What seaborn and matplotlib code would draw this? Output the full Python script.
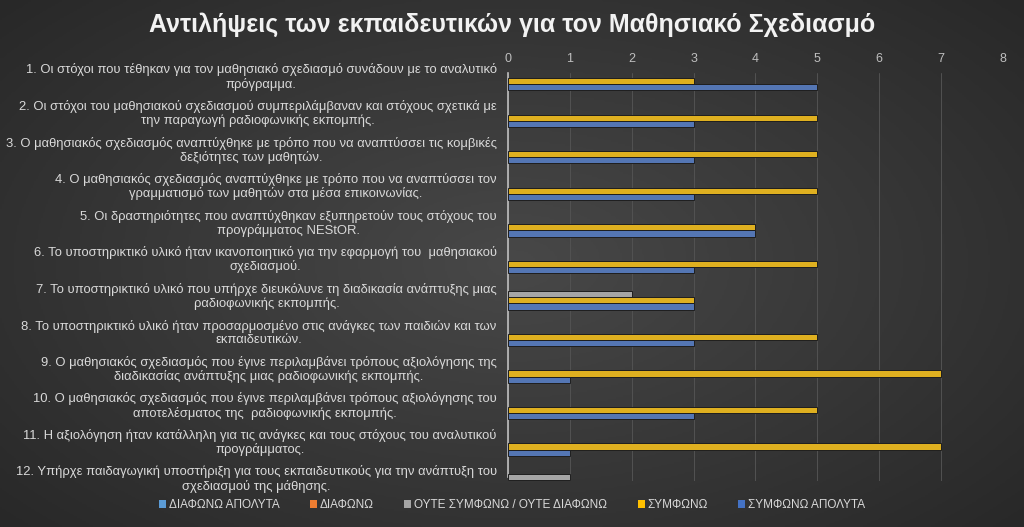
import matplotlib
matplotlib.use("Agg")
import matplotlib.pyplot as plt
import numpy as np
import pandas as pd
import seaborn as sns
from matplotlib.patches import Patch

questions = [
    "1. Οι στόχοι που τέθηκαν για τον μαθησιακό σχεδιασμό συνάδουν με το αναλυτικό\nπρόγραμμα.",
    "2. Οι στόχοι του μαθησιακού σχεδιασμού συμπεριλάμβαναν και στόχους σχετικά με\nτην παραγωγή ραδιοφωνικής εκπομπής.",
    "3. Ο μαθησιακός σχεδιασμός αναπτύχθηκε με τρόπο που να αναπτύσσει τις κομβικές\nδεξιότητες των μαθητών.",
    "4. Ο μαθησιακός σχεδιασμός αναπτύχθηκε με τρόπο που να αναπτύσσει τον\nγραμματισμό των μαθητών στα μέσα επικοινωνίας.",
    "5. Οι δραστηριότητες που αναπτύχθηκαν εξυπηρετούν τους στόχους του\nπρογράμματος NEStOR.",
    "6. Το υποστηρικτικό υλικό ήταν ικανοποιητικό για την εφαρμογή του  μαθησιακού\nσχεδιασμού.",
    "7. Το υποστηρικτικό υλικό που υπήρχε διευκόλυνε τη διαδικασία ανάπτυξης μιας\nραδιοφωνικής εκπομπής.",
    "8. Το υποστηρικτικό υλικό ήταν προσαρμοσμένο στις ανάγκες των παιδιών και των\nεκπαιδευτικών.",
    "9. Ο μαθησιακός σχεδιασμός που έγινε περιλαμβάνει τρόπους αξιολόγησης της\nδιαδικασίας ανάπτυξης μιας ραδιοφωνικής εκπομπής.",
    "10. Ο μαθησιακός σχεδιασμός που έγινε περιλαμβάνει τρόπους αξιολόγησης του\nαποτελέσματος της  ραδιοφωνικής εκπομπής.",
    "11. Η αξιολόγηση ήταν κατάλληλη για τις ανάγκες και τους στόχους του αναλυτικού\nπρογράμματος.",
    "12. Υπήρχε παιδαγωγική υποστήριξη για τους εκπαιδευτικούς για την ανάπτυξη του\nσχεδιασμού της μάθησης.",
]

answers = ["ΔΙΑΦΩΝΩ ΑΠΟΛΥΤΑ", "ΔΙΑΦΩΝΩ", "ΟΥΤΕ ΣΥΜΦΩΝΩ / ΟΥΤΕ ΔΙΑΦΩΝΩ", "ΣΥΜΦΩΝΩ", "ΣΥΜΦΩΝΩ ΑΠΟΛΥΤΑ"]
colors = ["#5B9BD5", "#ED7D31", "#A5A5A5", "#FFC000", "#4472C4"]

diafono_apolyta = [0, 0, 0, 0, 0, 0, 0, 0, 0, 0, 0, 0]
diafono = [0, 0, 0, 0, 0, 0, 0, 0, 0, 0, 0, 0]
oute = [0, 0, 0, 0, 0, 0, 2, 0, 0, 0, 0, 1]
symfono = [3, 5, 5, 5, 4, 5, 3, 5, 7, 5, 7, 0]
symfono_apolyta = [5, 3, 3, 3, 4, 3, 3, 3, 1, 3, 1, 0]

series = [diafono_apolyta, diafono, oute, symfono, symfono_apolyta]
rows = []
for ans, vals in zip(answers, series):
    for q, v in zip(questions, vals):
        rows.append({"ερώτηση": q, "απάντηση": ans, "πλήθος": v})
df = pd.DataFrame(rows)
df = df[df["πλήθος"] > 0]

sns.set_theme(style="dark")
plt.rcParams["font.family"] = ["Liberation Sans", "DejaVu Sans"]

fig = plt.figure(figsize=(10.24, 5.27), dpi=100)

# radial dark-grey background
bg = fig.add_axes([0, 0, 1, 1], zorder=-10)
yy, xx = np.mgrid[-1:1:300j, -1:1:600j]
r = np.sqrt((xx / 1.1) ** 2 + (yy / 1.2) ** 2)
bg.imshow(-r, cmap=sns.blend_palette(["#282828", "#484848"], as_cmap=True),
          aspect="auto", extent=[0, 1, 0, 1])
bg.set_axis_off()

ax = fig.add_axes([0.496, 0.088, 0.4835, 0.7735])
ax.set_facecolor("none")

sns.barplot(
    data=df, y="ερώτηση", x="πλήθος", hue="απάντηση",
    order=questions, hue_order=answers, palette=colors,
    orient="h", width=0.84, edgecolor="#1e1e1e", linewidth=0.7,
    ax=ax, legend=False, zorder=3,
)

ax.set_xlim(0, 8)
ax.set_ylim(11.1, -0.055)
ax.xaxis.tick_top()
ax.set_xticks(range(0, 9))
ax.tick_params(axis="x", colors="#bfbfbf", labelsize=9, length=0, pad=6)
ax.tick_params(axis="y", colors="#d9d9d9", labelsize=9.4, length=0, pad=8)
for lbl in ax.get_yticklabels():
    lbl.set_horizontalalignment("right")
    lbl.set_multialignment("center")
    lbl.set_linespacing(1.12)
ax.set_xlabel("")
ax.set_ylabel("")
ax.grid(axis="x", color="#525252", linewidth=0.7)
ax.grid(axis="y", visible=False)
for side in ["top", "right", "bottom"]:
    ax.spines[side].set_visible(False)
ax.spines["left"].set_color("#bfbfbf")
ax.spines["left"].set_linewidth(1.2)
ax.spines["left"].set_bounds(11.0, -0.055)

fig.text(0.5, 0.954, "Αντιλήψεις των εκπαιδευτικών για τον Μαθησιακό Σχεδιασμό",
         ha="center", va="center", fontsize=18, fontweight="bold", color="#f2f2f2")

handles = [Patch(facecolor=c, edgecolor="none", label=a) for a, c in zip(answers, colors)]
leg = fig.legend(handles=handles, loc="center", bbox_to_anchor=(0.5, 0.041), ncol=5,
                 frameon=False, fontsize=8.5, handlelength=0.6, handleheight=0.6,
                 handletextpad=0.2, columnspacing=2.6)
for t in leg.get_texts():
    t.set_color("#d9d9d9")

fig.savefig("out.png", dpi=100)
